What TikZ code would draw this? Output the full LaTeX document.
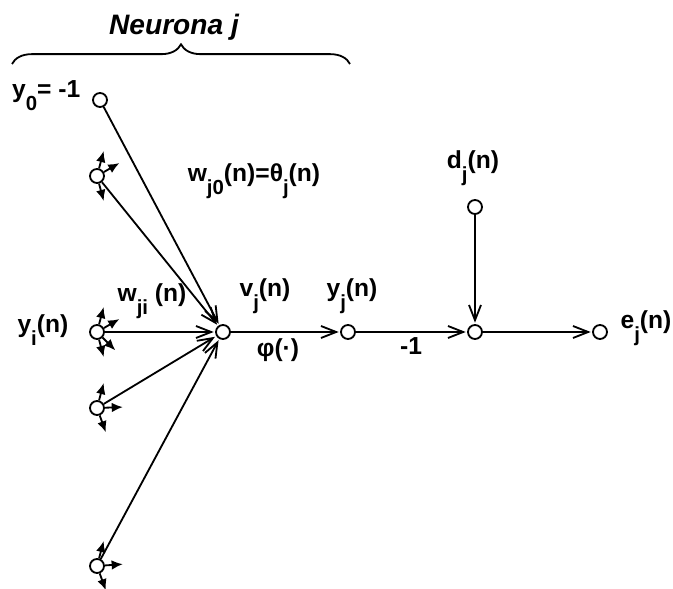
\documentclass[tikz,border=0pt]{standalone}
\usepackage{fontspec}
\setmainfont{Liberation Sans}
\usetikzlibrary{arrows.meta,decorations.pathreplacing}
\newcommand{\lowsub}[1]{\raisebox{-1ex}{\fontsize{14.5}{17}\selectfont #1}}

\begin{document}
\begin{tikzpicture}[x=0.025cm, y=-0.025cm,
  nd/.style={draw, circle, line width=1.3pt, minimum size=0.35cm, inner sep=0pt},
  arr/.style={-{Straight Barb[length=3.8mm,width=3mm,line width=1.3pt]}, line width=1.3pt, shorten >=1pt},
  stub/.style={-{Latex[length=2.8mm,width=2.4mm]}, line width=1.3pt},
  lab/.style={font=\bfseries\fontsize{17.5}{21}\selectfont, inner sep=1pt}
]
  \useasboundingbox (0,0) rectangle (673,589);

  % title and brace
  \draw[line width=1.3pt, decorate, decoration={brace, amplitude=14}] (12,64) -- (350,64);
  \node[font=\bfseries\itshape\fontsize{20}{24}\selectfont] (title) at (174,27) {Neurona j};

  % nodes
  \node[nd] (y0) at (100,100) {};
  \node[nd] (x1) at (97,176) {};
  \node[nd] (yi) at (97,332) {};
  \node[nd] (x2) at (97,408) {};
  \node[nd] (x3) at (97,566) {};
  \node[nd] (vj) at (223,332) {};
  \node[nd] (yj) at (348,332) {};
  \node[nd] (sum) at (475,332) {};
  \node[nd] (dj) at (475,207) {};
  \node[nd] (ej) at (600,332) {};

  % stubs
  \foreach \a [evaluate=\a as \b using -\a] in {75,30,-75} \draw[stub] (x1.\a) -- ++(\b:18);
  \foreach \a [evaluate=\a as \b using -\a] in {75,30,-45,-75} \draw[stub] (yi.\a) -- ++(\b:18);
  \foreach \a [evaluate=\a as \b using -\a] in {75,2,-70} \draw[stub] (x2.\a) -- ++(\b:18);
  \foreach \a [evaluate=\a as \b using -\a] in {75,4,-70} \draw[stub] (x3.\a) -- ++(\b:18);

  % connections
  \foreach \n in {y0,x1,yi,x2,x3} \draw[arr] (\n) -- (vj);
  \draw[arr] (vj) -- (yj);
  \draw[arr] (yj) -- (sum);
  \draw[arr] (dj) -- (sum);
  \draw[arr] (sum) -- (ej);

  % labels
  \node[lab, anchor=east] (ly0) at (82,96) {y\lowsub{0}= -1};
  \node[lab, anchor=east] (lyi) at (70,330) {y\lowsub{i}(n)};
  \node[lab] (lwji) at (152,301) {w\lowsub{ji} (n)};
  \node[lab] (lwj0) at (254,181) {w\lowsub{j0}(n)=θ\lowsub{j}(n)};
  \node[lab] (lvj) at (265,296) {v\lowsub{j}(n)};
  \node[lab] (lyj) at (352,296) {y\lowsub{j}(n)};
  \node[lab] (lphi) at (278,350) {φ(·)};
  \node[lab] (lm1) at (411,346) {-1};
  \node[lab] (ldj) at (473,168) {d\lowsub{j}(n)};
  \node[lab] (lej) at (646,328) {e\lowsub{j}(n)};
\end{tikzpicture}
\end{document}
